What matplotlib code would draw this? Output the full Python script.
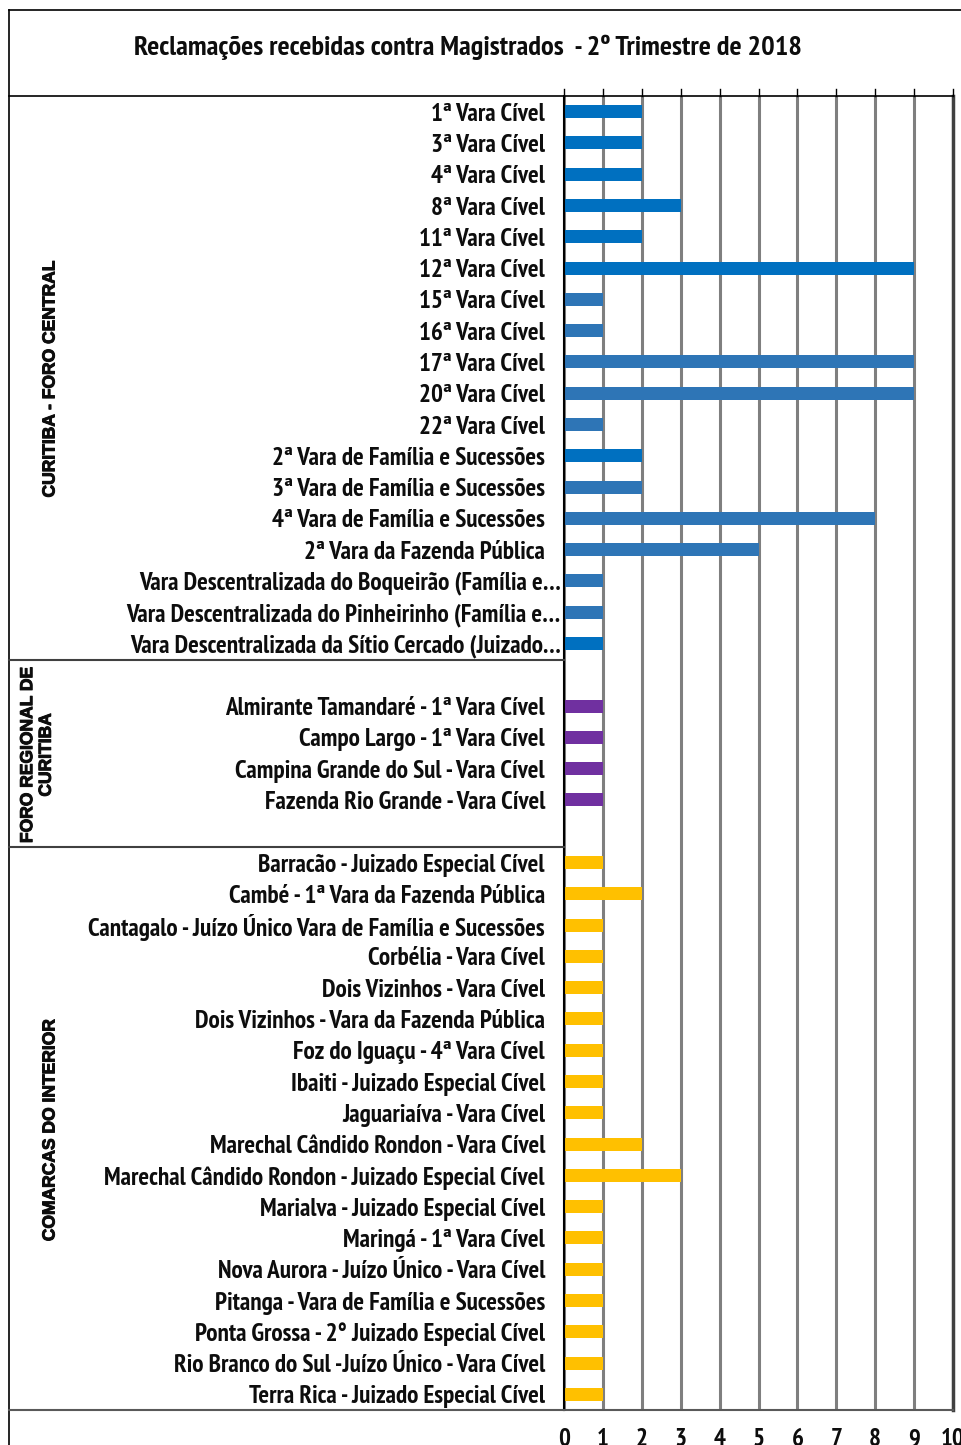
import matplotlib
matplotlib.use("Agg")
import matplotlib.pyplot as plt
import matplotlib.patheffects as pe
from matplotlib import font_manager
from matplotlib.font_manager import FontProperties
from matplotlib.lines import Line2D
from matplotlib.transforms import blended_transform_factory

title = "Reclamações recebidas contra Magistrados  - 2º Trimestre de 2018"

group1_name = "CURITIBA - FORO CENTRAL"
group1_labels = ["1ª Vara Cível", "3ª Vara Cível", "4ª Vara Cível", "8ª Vara Cível",
                 "11ª Vara Cível", "12ª Vara Cível", "15ª Vara Cível", "16ª Vara Cível",
                 "17ª Vara Cível", "20ª Vara Cível", "22ª Vara Cível",
                 "2ª Vara de Família e Sucessões", "3ª Vara de Família e Sucessões",
                 "4ª Vara de Família e Sucessões", "2ª Vara da Fazenda Pública",
                 "Vara Descentralizada do Boqueirão (Família e…",
                 "Vara Descentralizada do Pinheirinho (Família e…",
                 "Vara Descentralizada da Sítio Cercado (Juizado…"]
group1_values = [2, 2, 2, 3, 2, 9, 1, 1, 9, 9, 1, 2, 2, 8, 5, 1, 1, 1]
group1_colors = ["#0070C0"] * 6 + ["#2E75B6"] * 5 + ["#0070C0"] + ["#2E75B6"] * 5 + ["#0070C0"]

group2_name = "FORO REGIONAL DE\nCURITIBA"
group2_labels = ["Almirante Tamandaré - 1ª Vara Cível", "Campo Largo - 1ª Vara Cível",
                 "Campina Grande do Sul - Vara Cível", "Fazenda Rio Grande - Vara Cível"]
group2_values = [1, 1, 1, 1]
group2_color = "#7030A0"

group3_name = "COMARCAS DO INTERIOR"
group3_labels = ["Barracão - Juizado Especial Cível", "Cambé - 1ª Vara da Fazenda Pública",
                 "Cantagalo - Juízo Único Vara de Família e Sucessões", "Corbélia - Vara Cível",
                 "Dois Vizinhos - Vara Cível", "Dois Vizinhos - Vara da Fazenda Pública",
                 "Foz do Iguaçu - 4ª Vara Cível", "Ibaiti - Juizado Especial Cível",
                 "Jaguariaíva - Vara Cível", "Marechal Cândido Rondon - Vara Cível",
                 "Marechal Cândido Rondon - Juizado Especial Cível",
                 "Marialva - Juizado Especial Cível", "Maringá - 1ª Vara Cível",
                 "Nova Aurora - Juízo Único - Vara Cível", "Pitanga - Vara de Família e Sucessões",
                 "Ponta Grossa - 2° Juizado Especial Cível", "Rio Branco do Sul -Juízo Único - Vara Cível",
                 "Terra Rica - Juizado Especial Cível"]
group3_values = [1, 2, 1, 1, 1, 1, 1, 1, 1, 2, 3, 1, 1, 1, 1, 1, 1, 1]
group3_color = "#FFC000"

x_ticks = list(range(0, 11))


def isbold(f):
    w = f.weight
    return (isinstance(w, int) and w >= 700) or w in ('bold', 'heavy')


def find_font():
    files = list(font_manager.fontManager.ttflist)
    prefs = [
        lambda f: 'Narrow' in f.name and isbold(f) and 'Italic' not in f.fname,
        lambda f: 'Narrow' in f.fname and 'Bold' in f.fname and 'Italic' not in f.fname,
        lambda f: 'Condensed' in f.fname and 'Bold' in f.fname and 'Semi' not in f.fname
                  and 'Extra' not in f.fname and 'Italic' not in f.fname and 'Oblique' not in f.fname,
        lambda f: f.stretch == 'condensed' and isbold(f) and f.style == 'normal',
    ]
    for p in prefs:
        c = [f for f in files if p(f)]
        if c:
            return FontProperties(fname=c[0].fname)
    return FontProperties(family='Liberation Sans', weight='bold')


FP_N = find_font()
FP_W = FontProperties(family=['Liberation Sans', 'DejaVu Sans'], weight='bold')

W, H = 961, 1445
fig = plt.figure(figsize=(W / 100, H / 100), dpi=100)
renderer = fig.canvas.get_renderer()


def fit_size(text, fp, target_px):
    t = fig.text(0, 0, text, fontproperties=fp, fontsize=10)
    w = t.get_window_extent(renderer).width
    t.remove()
    return 10 * target_px / w


LBL_SIZE = fit_size("1ª Vara Cível", FP_N, 114)
TITLE_SIZE = fit_size(title, FP_N, 671)
G_SIZE = fit_size(group1_name, FP_W, 236)


def fx(px):
    return px / W


def fy(py):
    return 1 - py / H


ax_left, ax_right, ax_top, ax_bot = 564, 953, 96, 1410
ax = fig.add_axes([fx(ax_left), fy(ax_bot), fx(ax_right - ax_left), (ax_bot - ax_top) / H])

rows = []
for l, v, c in zip(group1_labels, group1_values, group1_colors):
    rows.append((l, v, c))
rows.append(None)
for l, v in zip(group2_labels, group2_values):
    rows.append((l, v, group2_color))
rows.append(None)
for l, v in zip(group3_labels, group3_values):
    rows.append((l, v, group3_color))

n = len(rows)
ys, vals, cols, labs = [], [], [], []
for i, r in enumerate(rows):
    if r is None:
        continue
    ys.append(i)
    labs.append(r[0])
    vals.append(r[1])
    cols.append(r[2])

ax.barh(ys, vals, height=0.42, color=cols, zorder=3)
ax.set_ylim(n - 0.5, -0.5)
ax.set_xlim(0, 10)
ax.set_xticks(x_ticks)
ax.xaxis.grid(True, color="#7F7F7F", linewidth=2.2, zorder=1)
ax.set_yticks([])
ax.tick_params(axis='x', length=0, pad=13)
for t in ax.get_xticklabels():
    t.set_fontproperties(FP_N)
    t.set_fontsize(LBL_SIZE)
    t.set_color('#0D0D0D')
ax.spines['left'].set_color('black')
ax.spines['left'].set_linewidth(1.5)
ax.spines['left'].set_zorder(4)
ax.spines['top'].set_color('black')
ax.spines['top'].set_linewidth(1.2)
ax.spines['right'].set_color('#404040')
ax.spines['right'].set_linewidth(2.5)
ax.spines['bottom'].set_color('#595959')
ax.spines['bottom'].set_linewidth(1.5)

tr = blended_transform_factory(fig.transFigure, ax.transData)
for y, l in zip(ys, labs):
    xr = 561 if l.endswith("…") else 545
    ax.text(fx(xr), y + 0.08, l, transform=tr, ha='right', va='center',
            fontproperties=FP_N, fontsize=LBL_SIZE, color='#0D0D0D', clip_on=False)


def fline(x0, y0, x1, y1, color='black', lw=1.2):
    fig.add_artist(Line2D([fx(x0), fx(x1)], [fy(y0), fy(y1)], color=color, linewidth=lw))


fline(9, 10, 961, 10)
fline(9, 10, 9, 1445)
fline(9, 96, 564, 96)
fline(9, 660, 564, 660, color='#404040', lw=1.5)
fline(9, 847, 564, 847, color='#404040', lw=1.5)
fline(9, 1410, 564, 1410, color='#595959', lw=1.5)

for xv in x_ticks:
    px = ax_left + (ax_right - ax_left) * xv / 10
    fline(px, 89, px, 96, color='black', lw=1.0)

fig.text(fx(468), fy(47), title, ha='center', va='center', fontproperties=FP_N,
         fontsize=TITLE_SIZE, color='#0D0D0D')

thick = [pe.withStroke(linewidth=0.7, foreground='#0D0D0D')]
fig.text(fx(50), fy(379), group1_name, rotation=90, ha='center', va='center',
         fontproperties=FP_W, fontsize=G_SIZE, color='#0D0D0D', path_effects=thick)
fig.text(fx(37), fy(755), group2_name, rotation=90, ha='center', va='center',
         multialignment='center', fontproperties=FP_W, fontsize=G_SIZE,
         color='#0D0D0D', linespacing=1.3, path_effects=thick)
fig.text(fx(50), fy(1130), group3_name, rotation=90, ha='center', va='center',
         fontproperties=FP_W, fontsize=G_SIZE, color='#0D0D0D', path_effects=thick)

fig.savefig("out.png", dpi=100, facecolor='white')
